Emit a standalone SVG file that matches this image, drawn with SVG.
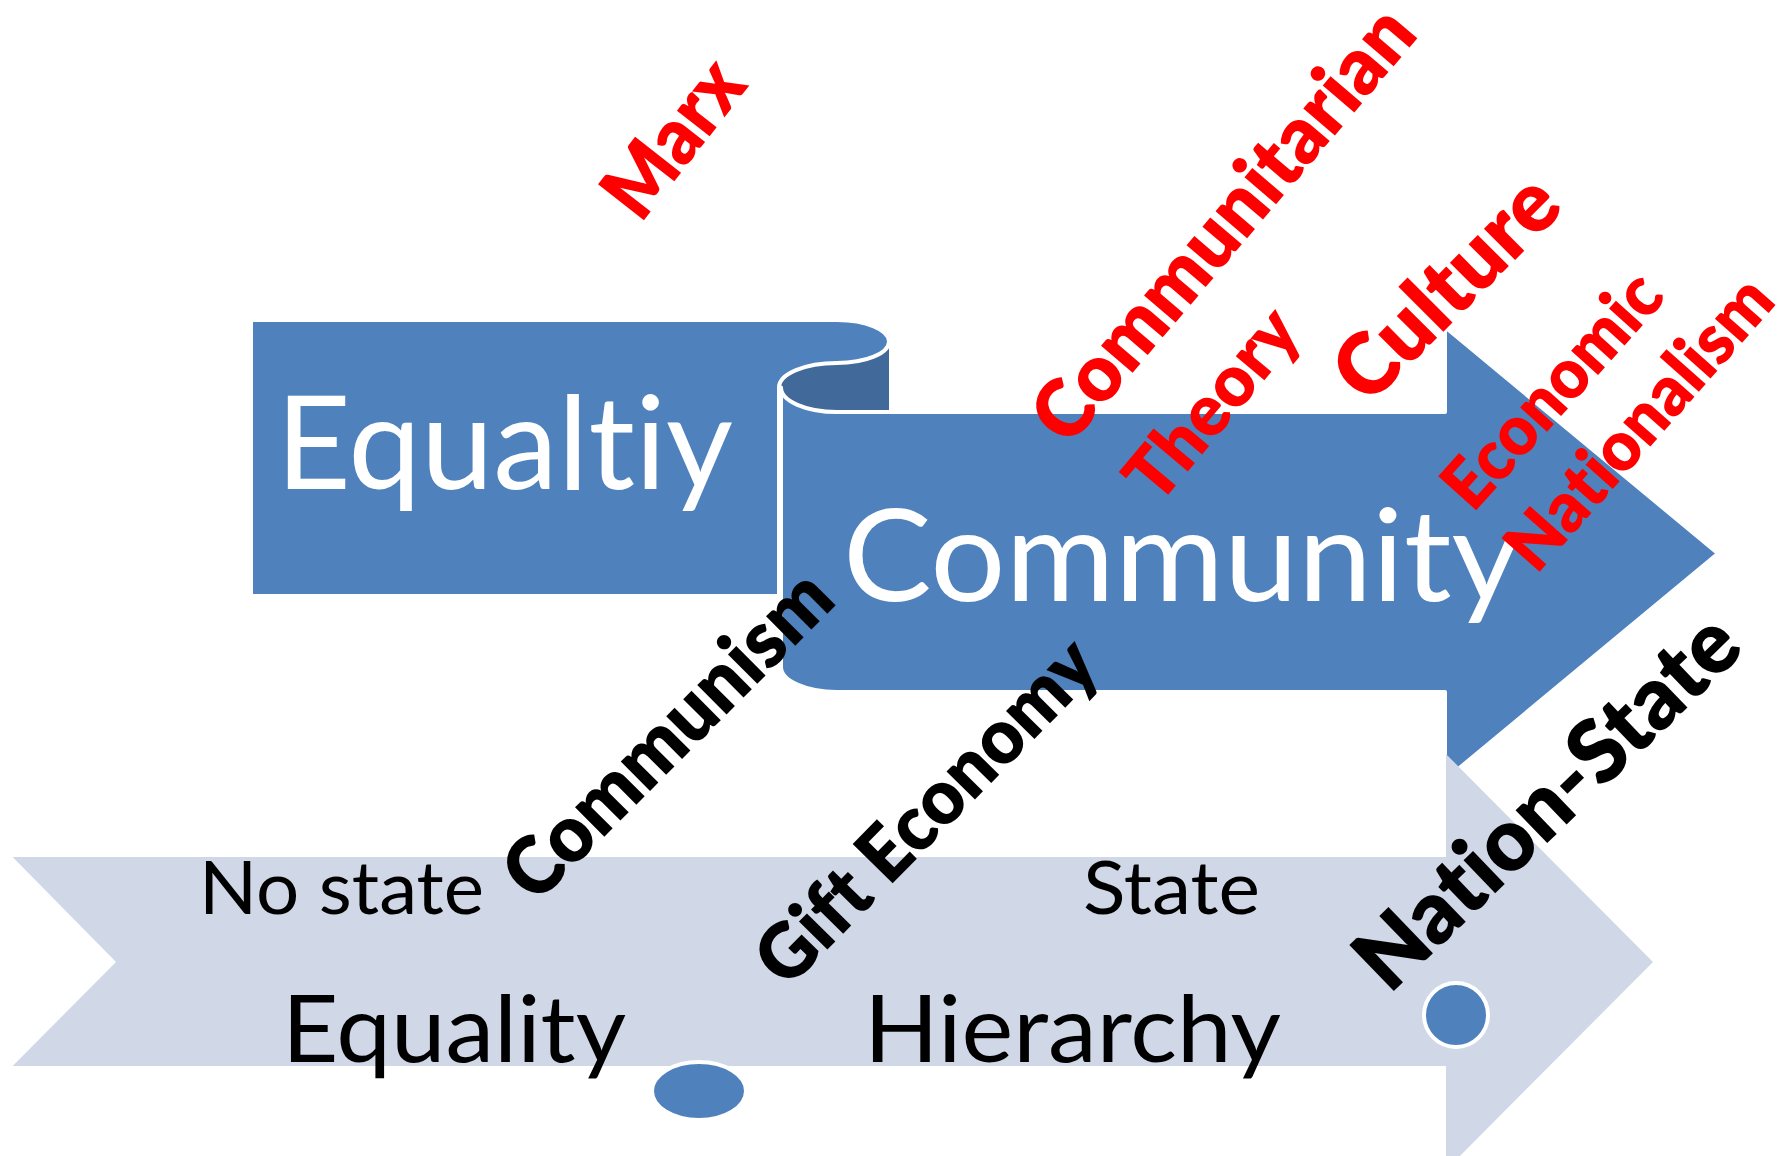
<svg xmlns="http://www.w3.org/2000/svg" width="1791" height="1156" viewBox="0 0 1791 1156">
<style>
  text { font-variant-ligatures: none; font-feature-settings: "liga" 0, "clig" 0; }
  .blue { fill: #4F81BD; stroke: #FFFFFF; stroke-width: 4; stroke-linejoin: round; }
  .dark { fill: #41699A; }
  .light { fill: #D0D8E8; }
  .dot { fill: #4F81BD; stroke: #FFFFFF; stroke-width: 4; }
  .big { font-family: Lato, "Liberation Sans", sans-serif; font-weight: 400; fill: #FFFFFF; }
  .mid { font-family: Lato, "Liberation Sans", sans-serif; font-weight: 400; fill: #000000; }
  .lbl { font-family: Lato, "Liberation Sans", sans-serif; font-weight: 800; }
  .red { fill: #FF0000; }
  .blk { fill: #000000; }
</style>
<rect width="1791" height="1156" fill="#FFFFFF"/>
<g id="equality-banner">
  <rect class="dark" x="779" y="340" width="110" height="74"/>
  <path class="blue" d="M251,320 H837 A52,21.5 0 0 1 889,341.5 A52,21.5 0 0 1 837,363 A58,24.5 0 0 0 779,387.5 V596 H251 Z"/>
  <text class="big" x="276" y="489" font-size="130" textLength="457" lengthAdjust="spacingAndGlyphs">Equaltiy</text>
</g>
<g id="community-arrow">
  <path class="blue" d="M781,387.5 A56,24.5 0 0 0 837,412 H1445 V327 L1718,553.5 L1445,780 V692 H837 A56,25 0 0 1 781,667 Z"/>
  <text class="big" x="843" y="601" font-size="128" textLength="677" lengthAdjust="spacingAndGlyphs">Community</text>
</g>
<g id="state-arrow">
  <path class="light" d="M12.6,857 H1446 V754 L1653,962 L1446,1170 V1066 H12.6 L116,962 Z"/>
  <ellipse class="dot" cx="699" cy="1091" rx="47" ry="29"/>
  <circle class="dot" cx="1456" cy="1015" r="32"/>
  <text class="mid" x="199" y="914" font-size="73" textLength="285" lengthAdjust="spacingAndGlyphs">No state</text>
  <text class="mid" x="1083" y="914" font-size="73" textLength="177" lengthAdjust="spacingAndGlyphs">State</text>
  <text class="mid" x="282" y="1062" font-size="93" textLength="344" lengthAdjust="spacingAndGlyphs">Equality</text>
  <text class="mid" x="864" y="1062" font-size="93" textLength="417" lengthAdjust="spacingAndGlyphs">Hierarchy</text>
</g>
<g id="labels" text-anchor="middle">
  <text class="lbl red" transform="translate(695,155) rotate(-52)" font-size="80" textLength="176" lengthAdjust="spacingAndGlyphs">Marx</text>
  <text class="lbl red" transform="translate(1244,242) rotate(-49.6)" font-size="80" textLength="542" lengthAdjust="spacingAndGlyphs">Communitarian</text>
  <text class="lbl red" transform="translate(1231,420) rotate(-50)" font-size="72" textLength="226" lengthAdjust="spacingAndGlyphs">Theory</text>
  <text class="lbl red" transform="translate(1467,308) rotate(-45)" font-size="85" textLength="280" lengthAdjust="spacingAndGlyphs">Culture</text>
  <text class="lbl red" transform="translate(1570,406) rotate(-48)" font-size="70" textLength="290" lengthAdjust="spacingAndGlyphs">Economic</text>
  <text class="lbl red" transform="translate(1657,439) rotate(-48.5)" font-size="70" textLength="364" lengthAdjust="spacingAndGlyphs">Nationalism</text>
  <text class="lbl blk" transform="translate(687,754) rotate(-45)" font-size="80" textLength="428" lengthAdjust="spacingAndGlyphs">Communism</text>
  <text class="lbl blk" transform="translate(945,830) rotate(-45.5)" font-size="77" textLength="450" lengthAdjust="spacingAndGlyphs">Gift Economy</text>
  <text class="lbl blk" transform="translate(1568,823) rotate(-44)" font-size="88" textLength="496" lengthAdjust="spacingAndGlyphs">Nation-State</text>
</g>
</svg>
